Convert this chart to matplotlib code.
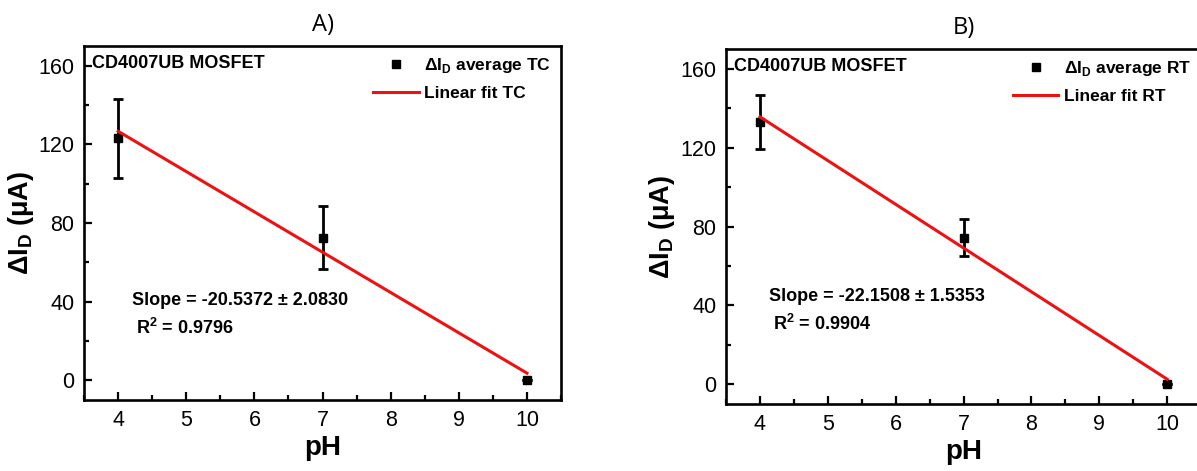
import numpy as np
import matplotlib
matplotlib.use('Agg')
import matplotlib.pyplot as plt
from matplotlib.lines import Line2D
from matplotlib.ticker import MultipleLocator

plt.rcParams['font.family'] = ['Liberation Sans', 'DejaVu Sans']
plt.rcParams['mathtext.fontset'] = 'custom'
plt.rcParams['mathtext.rm'] = 'Liberation Sans'

# data
ph = [4, 7, 10]
di_tc = [123, 72.5, 0]
err_tc = [20, 16, 0]
di_rt = [133, 74.3, 0]
err_rt = [13.6, 9.3, 0]

panels = [
    ('A)', di_tc, err_tc, 'TC', 'Slope = -20.5372 ± 2.0830', 'R$^\\mathregular{2}$ = 0.9796',
     [0.0702, 0.1507, 0.3985, 0.7516], (4.21, 40.7), (4.27, 26.5)),
    ('B)', di_rt, err_rt, 'RT', 'Slope = -22.1508 ± 1.5353', 'R$^\\mathregular{2}$ = 0.9904',
     [0.6065, 0.142, 0.397, 0.754], (4.13, 44.7), (4.19, 30.5)),
]

fig = plt.figure(figsize=(11.97, 4.71), dpi=100)

for title, y, e, tag, slope_txt, r2_txt, rect, pos1, pos2 in panels:
    ax = fig.add_axes(rect)
    ax.errorbar(ph, y, yerr=e, fmt='s', color='black', ms=6, elinewidth=2,
                capsize=3.5, capthick=2, zorder=3)
    k, b = np.polyfit(ph, y, 1)
    xs = np.array([ph[0], ph[-1]])
    ax.plot(xs, k * xs + b, color='#ee1111', lw=2.2, zorder=4)

    ax.set_xlim(3.5, 10.5)
    ax.set_ylim(-10, 170)
    ax.set_xticks([4, 5, 6, 7, 8, 9, 10])
    ax.set_yticks([0, 40, 80, 120, 160])
    ax.xaxis.set_minor_locator(MultipleLocator(0.5))
    ax.yaxis.set_minor_locator(MultipleLocator(20))
    ax.tick_params(which='both', direction='in', width=1.6, top=False, right=False,
                   labelsize=15.5)
    ax.tick_params(which='major', length=6, pad=7)
    ax.tick_params(which='minor', length=3.5)
    for s in ax.spines.values():
        s.set_linewidth(1.9)

    ax.set_xlabel('pH', fontsize=20, fontweight='bold', labelpad=3)
    ax.set_ylabel('ΔI$_\\mathregular{D}$ (μA)', fontsize=19.5, fontweight='bold', labelpad=2)
    ax.set_title(title, fontsize=17, family=['Open Sans', 'DejaVu Sans'], pad=11)

    ax.text(3.62, 161, 'CD4007UB MOSFET', fontsize=13, fontweight='bold', va='center')
    ax.text(pos1[0], pos1[1], slope_txt, fontsize=13, fontweight='bold', va='center')
    ax.text(pos2[0], pos2[1], r2_txt, fontsize=13, fontweight='bold', va='center')

    handles = [Line2D([], [], marker='s', ls='none', color='black', ms=5.5),
               Line2D([], [], color='#ee1111', lw=2.2)]
    labels = ['ΔI$_\\mathregular{D}$ average ' + tag, 'Linear fit ' + tag]
    ax.legend(handles, labels, loc='upper right', frameon=False,
              prop={'weight': 'bold', 'size': 12.5}, handlelength=2.6,
              handletextpad=0.3, labelspacing=0.6, borderaxespad=0.2)

fig.savefig('out.png', dpi=100)
